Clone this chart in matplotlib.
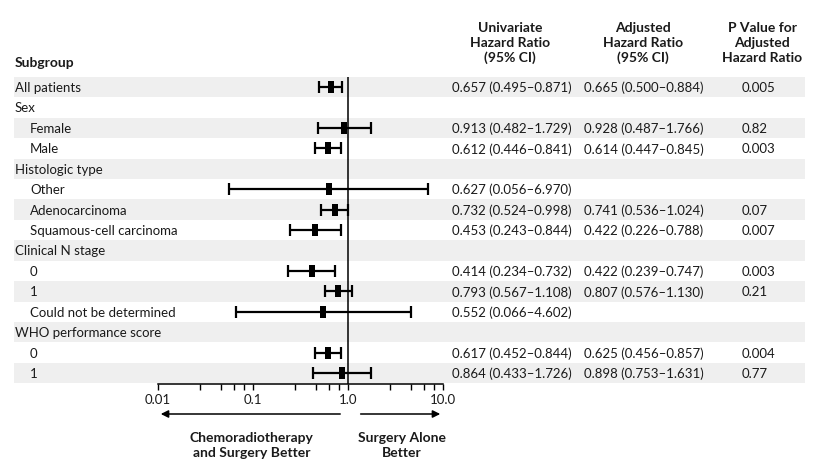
import numpy as np
import matplotlib.pyplot as plt
from matplotlib.path import Path

plt.rcParams['font.family'] = ['Lato', 'DejaVu Sans']

# Data
labels = ["All patients", "Sex", "Female", "Male", "Histologic type", "Other",
          "Adenocarcinoma", "Squamous-cell carcinoma", "Clinical N stage", "0", "1",
          "Could not be determined", "WHO performance score", "0", "1"]
indent = [0, 0, 1, 1, 0, 1, 1, 1, 0, 1, 1, 1, 0, 1, 1]

uni_hr = [0.657, None, 0.913, 0.612, None, 0.627, 0.732, 0.453, None, 0.414, 0.793, 0.552, None, 0.617, 0.864]
uni_lo = [0.495, None, 0.482, 0.446, None, 0.056, 0.524, 0.243, None, 0.234, 0.567, 0.066, None, 0.452, 0.433]
uni_hi = [0.871, None, 1.729, 0.841, None, 6.970, 0.998, 0.844, None, 0.732, 1.108, 4.602, None, 0.844, 1.726]

adj_hr = [0.665, None, 0.928, 0.614, None, None, 0.741, 0.422, None, 0.422, 0.807, None, None, 0.625, 0.898]
adj_lo = [0.500, None, 0.487, 0.447, None, None, 0.536, 0.226, None, 0.239, 0.576, None, None, 0.456, 0.753]
adj_hi = [0.884, None, 1.766, 0.845, None, None, 1.024, 0.788, None, 0.747, 1.130, None, None, 0.857, 1.631]

p_vals = ["0.005", "", "0.82", "0.003", "", "", "0.07", "0.007", "", "0.003", "0.21", "", "", "0.004", "0.77"]

tick_vals = [0.01, 0.1, 1.0, 10.0]
tick_labels = ["0.01", "0.1", "1.0", "10.0"]

W, H = 816, 477
row0, dy = 88, 20.43
n = len(labels)
txt = "#1a1a1a"
shade = "#efefef"

fig = plt.figure(figsize=(W / 100, H / 100), dpi=100)

# background axes in pixel units for table text and shading
bg = fig.add_axes([0, 0, 1, 1])
bg.set_xlim(0, W)
bg.set_ylim(H, 0)
bg.axis("off")

for i in range(n):
    y = row0 + i * dy
    if i % 2 == 0:
        bg.axhspan(y - dy / 2, y + dy / 2, xmin=14 / W, xmax=805 / W, color=shade, lw=0, zorder=0)
    bg.text(15 + 15 * indent[i], y, labels[i], va="center", ha="left", fontsize=9.5, color=txt)
    if uni_hr[i] is not None:
        bg.text(452, y, f"{uni_hr[i]:.3f} ({uni_lo[i]:.3f}\u2013{uni_hi[i]:.3f})",
                va="center", ha="left", fontsize=9.5, color=txt)
    if adj_hr[i] is not None:
        bg.text(584, y, f"{adj_hr[i]:.3f} ({adj_lo[i]:.3f}\u2013{adj_hi[i]:.3f})",
                va="center", ha="left", fontsize=9.5, color=txt)
    if p_vals[i]:
        bg.text(742, y, p_vals[i], va="center", ha="left", fontsize=9.5, color=txt)

bg.text(15, 63, "Subgroup", va="center", ha="left", fontsize=10, fontweight="bold", color=txt)
for x, s in [(510, "Univariate\nHazard Ratio\n(95% CI)"),
             (643, "Adjusted\nHazard Ratio\n(95% CI)"),
             (762, "P Value for\nAdjusted\nHazard Ratio")]:
    bg.text(x, 43, s, va="center", ha="center", fontsize=10, fontweight="bold",
            color=txt, linespacing=1.3)

# forest plot axes, log scale
left, right, top, bottom = 158, 443, 78, 385
ax = fig.add_axes([left / W, 1 - bottom / H, (right - left) / W, (bottom - top) / H])
ax.patch.set_alpha(0)
ax.set_xscale("log")
ax.set_xlim(0.01, 10)
ax.set_ylim((bottom - row0) / dy, (top - row0) / dy)

rect = Path([(-0.25, -0.5), (0.25, -0.5), (0.25, 0.5), (-0.25, 0.5), (-0.25, -0.5)])
rows = [i for i in range(n) if uni_hr[i] is not None]
hr = np.array([uni_hr[i] for i in rows])
lo = np.array([uni_lo[i] for i in rows])
hi = np.array([uni_hi[i] for i in rows])
ax.errorbar(hr, rows, xerr=[hr - lo, hi - hr], fmt="none", ecolor="black",
            elinewidth=1.6, capsize=4.4, capthick=1.6, zorder=3)
ax.plot(hr, rows, ls="none", marker=rect, markersize=9, markeredgewidth=0,
        color="black", zorder=4)

ax.axvline(1.0, color="black", lw=1.1, zorder=2)

for s in ["top", "right", "left"]:
    ax.spines[s].set_visible(False)
ax.spines["bottom"].set_linewidth(1.1)
ax.set_yticks([])
ax.set_xticks(tick_vals)
ax.set_xticklabels(tick_labels, fontsize=9.5, color=txt)
minor = [d * m for d in [0.01, 0.1, 1.0] for m in [2.8, 4.6, 6.3, 8.0]]
ax.set_xticks(minor, minor=True)
ax.set_xticklabels([], minor=True)
ax.tick_params(axis="x", which="both", direction="out", length=4.5, width=1.0, pad=2)

arrow_y = -(415 - bottom) / (bottom - top)
ax.annotate("", xy=(0.01, arrow_y), xytext=(0.886, arrow_y),
            xycoords=("data", "axes fraction"),
            arrowprops=dict(arrowstyle="-|>", color="black", lw=1.1, mutation_scale=11),
            annotation_clip=False)
ax.annotate("", xy=(10, arrow_y), xytext=(1.27, arrow_y),
            xycoords=("data", "axes fraction"),
            arrowprops=dict(arrowstyle="-|>", color="black", lw=1.1, mutation_scale=11),
            annotation_clip=False)
lab_y = -(446 - bottom) / (bottom - top)
ax.text(0.097, lab_y, "Chemoradiotherapy\nand Surgery Better", transform=ax.get_xaxis_transform(),
        ha="center", va="center", fontsize=10, fontweight="bold", color=txt, linespacing=1.3)
ax.text(3.7, lab_y, "Surgery Alone\nBetter", transform=ax.get_xaxis_transform(),
        ha="center", va="center", fontsize=10, fontweight="bold", color=txt, linespacing=1.3)

fig.savefig("out.png", dpi=100, facecolor="white")
